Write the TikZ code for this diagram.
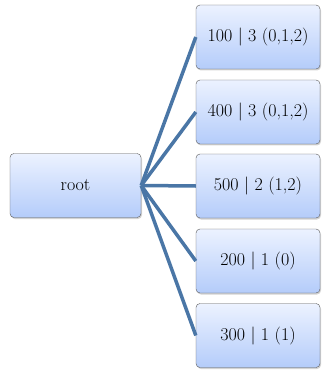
\documentclass[tikz,border=0pt]{standalone}
\usetikzlibrary{shadows}
\definecolor{linkblue}{RGB}{74,118,166}
\definecolor{boxtop}{RGB}{236,242,255}
\definecolor{boxbottom}{RGB}{180,204,250}
\begin{document}
\begin{tikzpicture}[x=1pt, y=-1pt,
    box/.style={draw=gray!70!black, rounded corners=4pt, top color=boxtop, bottom color=boxbottom,
      drop shadow={opacity=0.35, shadow xshift=1pt, shadow yshift=-1.5pt},
      minimum height=64pt, inner sep=0pt, font=\fontsize{18}{21}\selectfont},
    link/.style={draw=linkblue, line width=3.5pt}]
    \useasboundingbox (0,0) rectangle (321,374);
    \node[box, minimum width=131pt] (root) at (75.5,185.5) {root};
    \foreach \name/\y/\txt in {a/37/{100 | 3 (0,1,2)}, b/112/{400 | 3 (0,1,2)}, c/186/{500 | 2 (1,2)},
        d/261/{200 | 1 (0)}, e/335.5/{300 | 1 (1)}} {
        \node[box, minimum width=124pt] (\name) at (258,\y) {\txt};
        \draw[link] (root.east) -- (\name.west);
    }
\end{tikzpicture}
\end{document}
